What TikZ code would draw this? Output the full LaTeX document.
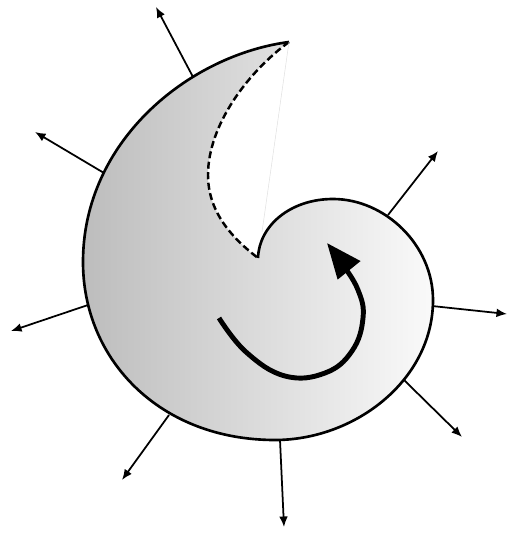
\documentclass[tikz,border=0pt]{standalone}
\usetikzlibrary{arrows.meta}

\begin{document}
\begin{tikzpicture}[
  x=0.02cm, y=-0.02cm,
  rim/.style={line width=1.5pt, line join=round},
  seam/.style={line width=1.4pt, dashed, dash pattern=on 4pt off 2pt},
  ray/.style={-{Latex[length=6pt, width=5pt]}, line width=1pt},
  spin/.style={-{Triangle[length=20pt, width=16pt]}, line width=2.8pt},
]
\useasboundingbox (0,0) rectangle (508,533);
\coordinate (tip) at (289,42);
\coordinate (notch) at (258,258);
\coordinate (cusp) at (262,232);
\coordinate (top) at (333,199);
\coordinate (east) at (433,300);
\coordinate (south) at (275,440);
\coordinate (west) at (83,262);
\coordinate (hollow) at (208,175);
% ---- body of the shell ----
\shade[left color=black!26, right color=black!2]
  (notch) .. controls (259,226) and (290,199) .. (top)
  .. controls (385,199) and (433,245) .. (east)
  .. controls (433,380) and (355,440) .. (south)
  .. controls (160,440) and (83,360) .. (west)
  .. controls (83,140) and (190,55) .. (tip)
  .. controls (248,72) and (208,125) .. (hollow)
  .. controls (208,212) and (232,238) .. (notch) -- cycle;
% ---- outline ----
\draw[rim] (notch) .. controls (259,226) and (290,199) .. (top)
  .. controls (385,199) and (433,245) .. (east)
  .. controls (433,380) and (355,440) .. (south)
  .. controls (160,440) and (83,360) .. (west)
  .. controls (83,140) and (190,55) .. (tip);
\draw[seam] (tip) .. controls (248,72) and (208,125) .. (hollow)
  .. controls (208,212) and (232,238) .. (notch);
\draw[black!12, line width=0.3pt] (tip) -- (cusp);
% ---- outward rays ----
\foreach \nm/\xa/\ya/\xb/\yb in {a/193/77/156/7, b/104/173/35/132,
    c/88/305/11/331, d/169/415/122/480, e/280/440/284/527,
    f/404/380/462/437, g/432/306/507/314, h/388/215/438/151}{
  \coordinate (ray-\nm-in) at (\xa,\ya);
  \coordinate (ray-\nm-out) at (\xb,\yb);
  \draw[ray] (ray-\nm-in) -- (ray-\nm-out);
}
% ---- rotation arrow ----
\draw[spin] plot[smooth, tension=0.7] coordinates {(219,318) (246,352) (285,376) (325,373)
  (352,351) (363,318) (358,290) (341,262) (327,243)};
\end{tikzpicture}
\end{document}
